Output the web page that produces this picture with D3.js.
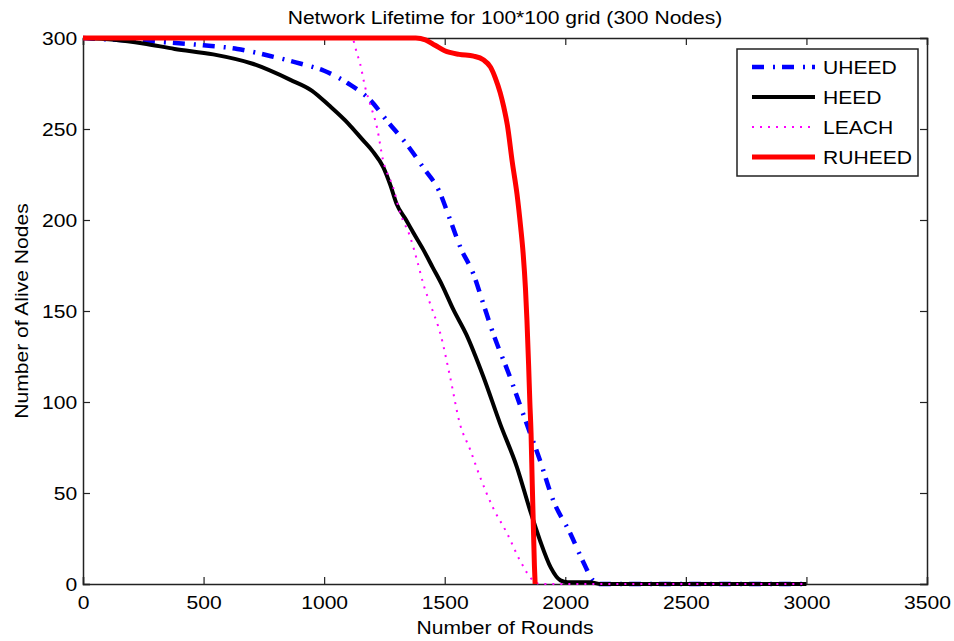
<!DOCTYPE html>
<html>
<head>
<meta charset="utf-8">
<script src="https://cdn.jsdelivr.net/npm/d3@7"></script>
<style>
  body { margin: 0; background: #fff; }
  text { font-family: "Liberation Sans", Arial, sans-serif; fill: #000; }
</style>
</head>
<body>
<div id="chart"></div>
<script>
// values: [round, alive nodes]
const uheed = [[0,300],[140,299],[300,298],[500,296],[640,294],[780,290],[900,286],[1000,282],[1100,275],[1190,266],[1270,253],[1340,242],[1410,229],[1480,215],[1520,201],[1565,185],[1620,170],[1660,154],[1700,138],[1770,114],[1840,88],[1895,68],[1950,46],[2020,28],[2075,12],[2115,2],[2145,0],[3000,0]];
const heed = [[0,300],[130,299],[250,297],[380,294],[540,291],[700,286],[860,277],[950,271],[1020,263],[1100,253],[1160,244],[1200,238],[1245,229],[1275,219],[1300,209],[1340,200],[1370,193],[1410,184],[1450,174],[1490,164],[1535,151],[1590,137],[1660,114],[1730,88],[1800,64],[1855,40],[1895,24],[1940,9],[1980,2],[2010,1],[2100,1],[2150,0],[3000,0]];
const leach = [[0,300],[1110,300],[1120,299],[1135,292],[1149,286],[1170,273],[1190,264],[1219,251],[1244,233],[1286,218],[1315,204],[1356,191],[1385,178],[1411,165],[1445,152],[1481,138],[1522,114],[1563,88],[1605,74],[1646,59],[1700,42],[1758,28],[1812,13],[1866,2],[1895,0],[3000,0]];
const ruheed = [[0,300],[1380,300],[1420,299],[1460,296],[1500,293],[1560,291],[1620,290],[1660,288],[1690,284],[1710,278],[1730,270],[1745,262],[1760,252],[1780,232],[1800,214],[1815,196],[1825,182],[1835,162],[1841,145],[1848,120],[1853,100],[1858,83],[1863,55],[1868,30],[1872,10],[1875,0]];

const seriesNames = ["UHEED", "HEED", "LEACH", "RUHEED"];
const xTicks = [0, 500, 1000, 1500, 2000, 2500, 3000, 3500];
const yTicks = [0, 50, 100, 150, 200, 250, 300];

const width = 954, height = 641;
const margin = { top: 38, right: 27, bottom: 57, left: 83 };
const sx = 1.14; // source font is wider than Arial

const styles = [
  { color: "#0000ff", w: 4.5, dash: "12,9,2,7" },
  { color: "#000000", w: 4, dash: null },
  { color: "#ff00ff", w: 2, dash: "2,6" },
  { color: "#ff0000", w: 5, dash: null }
];
const data = [uheed, heed, leach, ruheed];

const svg = d3.select("#chart").append("svg")
  .attr("width", width)
  .attr("height", height);

const x = d3.scaleLinear().domain([0, 3500]).range([margin.left, width - margin.right]);
const y = d3.scaleLinear().domain([0, 300]).range([height - margin.bottom, margin.top]);

// axes with inward ticks on all four sides
const tk = 7;
svg.append("g")
  .attr("transform", `translate(0,${y(0)})`)
  .call(d3.axisBottom(x).tickValues(xTicks).tickSize(-tk).tickPadding(12).tickFormat(d3.format("d")))
  .call(g => g.selectAll("text").attr("transform", `scale(${sx},1)`));
svg.append("g")
  .attr("transform", `translate(0,${y(300)})`)
  .call(d3.axisTop(x).tickValues(xTicks).tickSize(-tk).tickFormat(""));
svg.append("g")
  .attr("transform", `translate(${x(0)},0)`)
  .call(d3.axisLeft(y).tickValues(yTicks).tickSize(-tk).tickPadding(5))
  .call(g => g.selectAll("text").attr("transform", `scale(${sx},1)`).attr("dy", "0.36em"));
svg.append("g")
  .attr("transform", `translate(${x(3500)},0)`)
  .call(d3.axisRight(y).tickValues(yTicks).tickSize(-tk).tickFormat(""));

svg.selectAll(".domain").attr("stroke", "#222").attr("stroke-width", 1.5);
svg.selectAll(".tick line").attr("stroke", "#222").attr("stroke-width", 1.2);
svg.selectAll(".tick text").style("font-size", "18.5px");

// lines
const line = d3.line().x(d => x(d[0])).y(d => y(d[1])).curve(d3.curveMonotoneX);
svg.selectAll("path.series")
  .data(data)
  .join("path")
  .attr("class", "series")
  .attr("d", line)
  .attr("fill", "none")
  .attr("stroke", (d, i) => styles[i].color)
  .attr("stroke-width", (d, i) => styles[i].w)
  .attr("stroke-dasharray", (d, i) => styles[i].dash)
  .attr("stroke-linejoin", "round");

// title and axis labels
svg.append("text")
  .attr("transform", `translate(${(x(0) + x(3500)) / 2},24) scale(${sx},1)`)
  .attr("text-anchor", "middle")
  .style("font-size", "18.5px")
  .text("Network Lifetime for 100*100 grid (300 Nodes)");

svg.append("text")
  .attr("transform", `translate(${(x(0) + x(3500)) / 2},634) scale(${sx},1)`)
  .attr("text-anchor", "middle")
  .style("font-size", "18.5px")
  .text("Number of Rounds");

svg.append("text")
  .attr("transform", `translate(28,${(y(0) + y(300)) / 2}) rotate(-90) scale(${sx},1)`)
  .attr("text-anchor", "middle")
  .style("font-size", "18.5px")
  .text("Number of Alive Nodes");

// legend
const lg = svg.append("g");
lg.append("rect")
  .attr("x", 737).attr("y", 49)
  .attr("width", 181).attr("height", 127)
  .attr("fill", "#fff")
  .attr("stroke", "#222")
  .attr("stroke-width", 1.5);

const rowY = d3.scalePoint().domain(seriesNames).range([67, 157]);
const items = lg.selectAll("g.item")
  .data(seriesNames)
  .join("g")
  .attr("class", "item")
  .attr("transform", d => `translate(0,${rowY(d)})`);
items.append("line")
  .attr("x1", 752).attr("x2", 815)
  .attr("stroke", (d, i) => styles[i].color)
  .attr("stroke-width", (d, i) => styles[i].w)
  .attr("stroke-dasharray", (d, i) => styles[i].dash);
items.append("text")
  .attr("transform", `translate(823,0) scale(${sx},1)`)
  .attr("dy", "0.36em")
  .style("font-size", "18.5px")
  .text(d => d);
</script>
</body>
</html>
